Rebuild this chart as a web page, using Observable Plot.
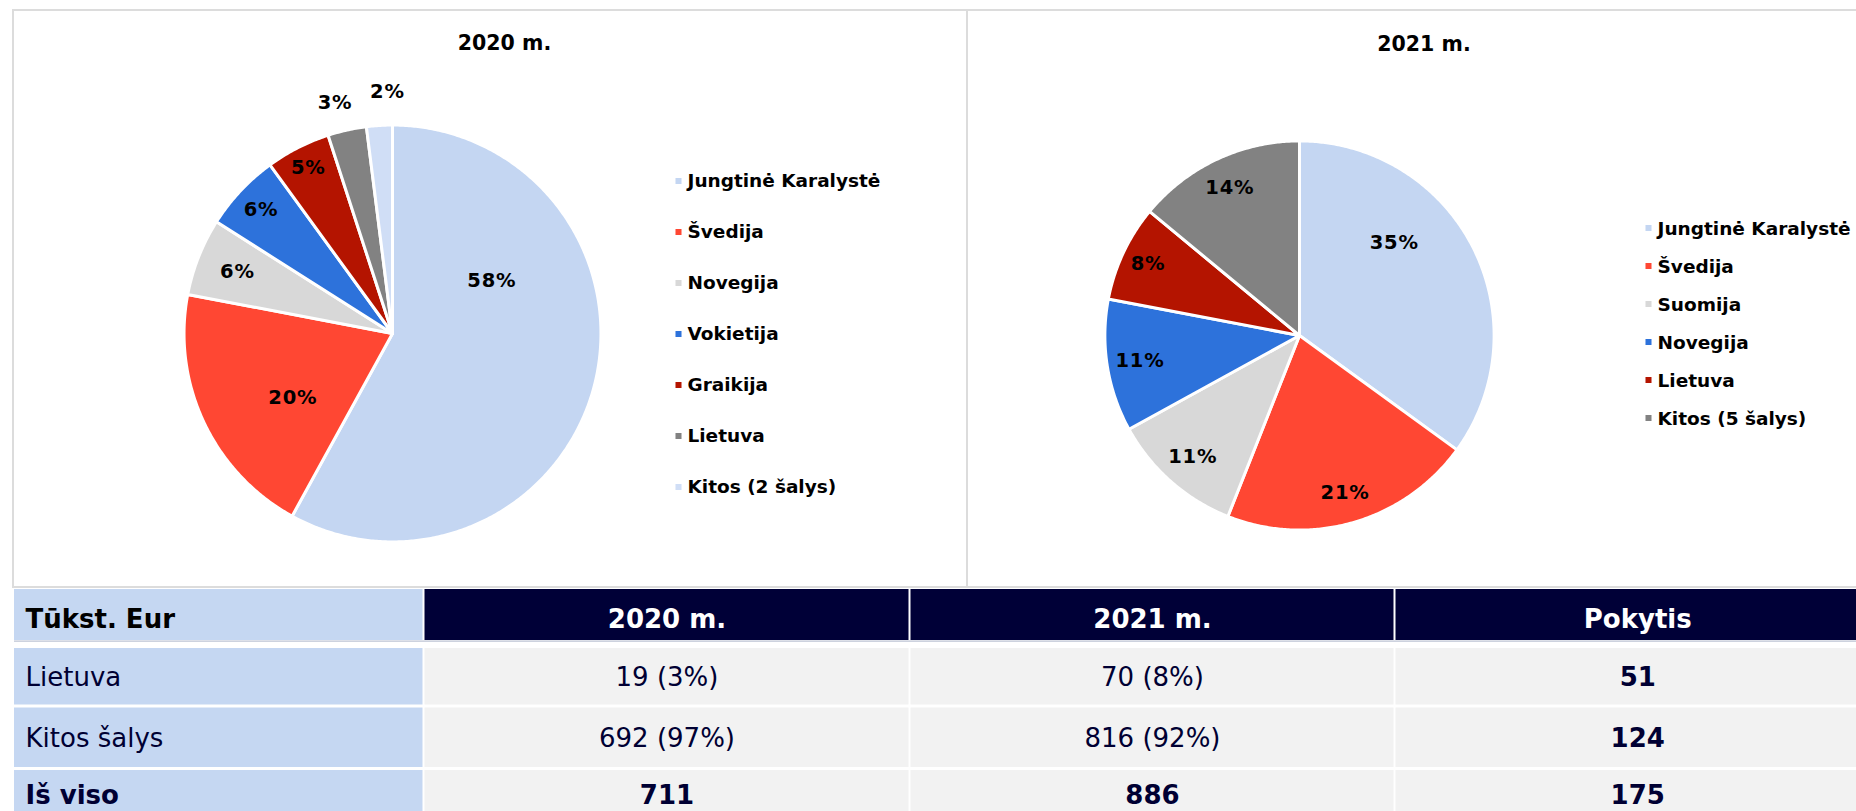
<!DOCTYPE html>
<html><head><meta charset="utf-8">
<script src="https://cdn.jsdelivr.net/npm/d3@7"></script>
<script src="https://cdn.jsdelivr.net/npm/@observablehq/plot@0.6"></script>
<style>
html,body{margin:0;padding:0;background:#fff;width:1856px;height:811px;overflow:hidden;font-family:"DejaVu Sans",Verdana,sans-serif;}
#root{position:relative;width:1856px;height:811px;overflow:hidden;}
.abs{position:absolute;}
.panel{position:absolute;border:2px solid #DCDCDC;box-sizing:border-box;}
.title{position:absolute;font-weight:bold;font-size:20.5px;line-height:20.5px;white-space:nowrap;transform:translateX(-50%);color:#000;}
</style></head><body>
<div id="root"></div>
<script>
// ---------- DATA ----------
const years = ["2020 m.", "2021 m."];
const countries2020 = ["Jungtinė Karalystė", "Švedija", "Novegija", "Vokietija", "Graikija", "Lietuva", "Kitos (2 šalys)"];
const shares2020 = [58, 20, 6, 6, 5, 3, 2];
const colors2020 = ["#C4D6F2", "#FF4733", "#D8D8D8", "#2D72DB", "#B41400", "#828282", "#D0DEF6"];
const countries2021 = ["Jungtinė Karalystė", "Švedija", "Suomija", "Novegija", "Lietuva", "Kitos (5 šalys)"];
const shares2021 = [35, 21, 11, 11, 8, 14];
const colors2021 = ["#C4D6F2", "#FF4733", "#D8D8D8", "#2D72DB", "#B41400", "#828282"];

const tableHeader = ["Tūkst. Eur", "2020 m.", "2021 m.", "Pokytis"];
const tableRows = ["Lietuva", "Kitos šalys", "Iš viso"];
const tableValues2020 = ["19 (3%)", "692 (97%)", "711"];
const tableValues2021 = ["70 (8%)", "816 (92%)", "886"];
const tableChange = ["51", "124", "175"];

// ---------- LAYOUT ----------
const root = document.getElementById("root");
function place(el, left, top) {
  const d = document.createElement("div");
  d.className = "abs"; d.style.left = left + "px"; d.style.top = top + "px";
  d.appendChild(el); root.appendChild(d); return d;
}
function panel(left, top, w, h) {
  const d = document.createElement("div");
  d.className = "panel"; Object.assign(d.style, {left: left + "px", top: top + "px", width: w + "px", height: h + "px"});
  root.appendChild(d);
}
function title(text, cx, top) {
  const d = document.createElement("div");
  d.className = "title"; d.textContent = text; d.style.left = cx + "px"; d.style.top = top + "px";
  root.appendChild(d);
}
const baseStyle = {background: "transparent", overflow: "visible", maxWidth: "none", fontFamily: "DejaVu Sans, Verdana, sans-serif"};

// Slice geometry (unit circle, clockwise from 12 o'clock, y down)
function sliceFeatures(names, values) {
  const total = d3.sum(values);
  let acc = 0;
  return names.map((name, i) => {
    const a0 = acc / total * 360; acc += values[i]; const a1 = acc / total * 360;
    const ring = [[0, 0]];
    const steps = Math.max(2, Math.ceil((a1 - a0) / 0.5));
    for (let s = 0; s <= steps; s++) {
      const a = (a0 + (a1 - a0) * s / steps) * Math.PI / 180;
      ring.push([Math.sin(a), -Math.cos(a)]);
    }
    ring.push([0, 0]);
    return {type: "Feature", properties: {name, value: values[i], a0, a1}, geometry: {type: "Polygon", coordinates: [ring]}};
  });
}
// label spots: [angle override (deg) or null for mid-angle, radius fraction]
function labelData(features, spots) {
  return features.map((f, i) => {
    const [ang, k] = spots[i];
    const a = (ang ?? (f.properties.a0 + f.properties.a1) / 2) * Math.PI / 180;
    return {x: k * Math.sin(a), y: -k * Math.cos(a), text: f.properties.value + "%"};
  });
}
function piePlot(names, values, colors, spots, size) {
  const D = 1.3;
  const feats = sliceFeatures(names, values);
  return Plot.plot({
    width: size, height: size, margin: 0,
    projection: {type: "identity", domain: {type: "Polygon", coordinates: [[[-D, -D], [D, -D], [D, D], [-D, D], [-D, -D]]]}},
    color: {domain: names, range: colors},
    style: {...baseStyle, letterSpacing: "0.8px"},
    marks: [
      Plot.geo(feats, {fill: d => d.properties.name, stroke: "white", strokeWidth: 3}),
      Plot.text(labelData(feats, spots), {x: "x", y: "y", text: "text", fontWeight: "bold", fontSize: 19.5, fill: "black"})
    ]
  });
}
function legendPlot(names, colors, step) {
  const top = 20;
  return Plot.plot({
    width: 300, height: top + (names.length - 1) * step + 20, margin: 0,
    x: {domain: [0, 1], range: [3, 12], axis: null},
    y: {type: "point", domain: names, range: [top, top + (names.length - 1) * step], padding: 0, axis: null},
    color: {domain: names, range: colors},
    style: baseStyle,
    marks: [
      Plot.dot(names, {x: () => 0, y: d => d, fill: d => d, symbol: "square", r: 3.4, dy: -6.5}),
      Plot.text(names, {x: () => 1, y: d => d, text: d => d, textAnchor: "start", lineAnchor: "bottom", fontWeight: "bold", fontSize: 18.5, fill: "black"})
    ]
  });
}

// panels
panel(12, 9, 956, 579);
panel(966, 9, 1000, 579);

// pies
place(piePlot(countries2020, shares2020, colors2020,
  [[62, 0.54], [237, 0.57], [null, 0.80], [null, 0.865], [null, 0.89], [346, 1.14], [358.8, 1.16]], 542), 120.5, 61.5);
place(piePlot(countries2021, shares2021, colors2021,
  [[45.7, 0.68], [null, 0.84], [null, 0.83], [null, 0.83], [null, 0.86], [null, 0.84]], 506), 1045.6, 81.5);

// legends
place(legendPlot(countries2020, colors2020, 51.17), 675, 166);
place(legendPlot(countries2021, colors2021, 38.55), 1645, 213.3);

// titles
title(years[0], 504.5, 32.7);
title(years[1], 1424, 33.5);

// ---------- TABLE ----------
const colEdges = [[14, 422.5], [424.5, 908.5], [910.5, 1393.5], [1395.5, 1879]];
const rowEdges = [[589, 640], [648, 704.5], [707.5, 767], [770, 817]];
const navy = "#000033";
const cells = [];
tableHeader.forEach((h, c) => cells.push({row: 0, col: c, text: h,
  bg: c === 0 ? "#C5D7F2" : "#000037", color: c === 0 ? "#000" : "#fff", bold: true}));
const columns = [tableRows, tableValues2020, tableValues2021, tableChange];
tableRows.forEach((r, i) => {
  columns.forEach((col, c) => cells.push({row: i + 1, col: c, text: col[i],
    bg: c === 0 ? "#C5D7F2" : "#F2F2F2", color: navy, bold: i === 2 || c === 3}));
});
const cx = d => d.col === 0 ? colEdges[0][0] + 11 : (colEdges[d.col][0] + colEdges[d.col][1]) / 2;
const cy = d => (rowEdges[d.row][0] + rowEdges[d.row][1]) / 2 + (d.row === 0 ? 13.2 : 9.6);
const textMark = (filter, anchor, bold) => Plot.text(cells.filter(filter), {
  x: cx, y: cy, text: "text", fill: "color", textAnchor: anchor, lineAnchor: "bottom",
  fontSize: 26, fontWeight: bold ? "bold" : "normal"});
const tablePlot = Plot.plot({
  width: 1856, height: 225, margin: 0,
  x: {type: "linear", domain: [0, 1856], range: [0, 1856], axis: null},
  y: {type: "linear", domain: [586, 811], range: [0, 225], axis: null},
  style: baseStyle,
  marks: [
    Plot.rect(cells, {x1: d => colEdges[d.col][0], x2: d => colEdges[d.col][1],
      y1: d => rowEdges[d.row][0], y2: d => rowEdges[d.row][1], fill: "bg"}),
    Plot.ruleY([640.6], {x1: 14, x2: 1856, stroke: "#BDC3D3", strokeWidth: 1.2}),
    textMark(d => d.col === 0 && d.bold, "start", true),
    textMark(d => d.col === 0 && !d.bold, "start", false),
    textMark(d => d.col > 0 && d.bold, "middle", true),
    textMark(d => d.col > 0 && !d.bold, "middle", false)
  ]
});
place(tablePlot, 0, 586);
</script>
</body></html>
